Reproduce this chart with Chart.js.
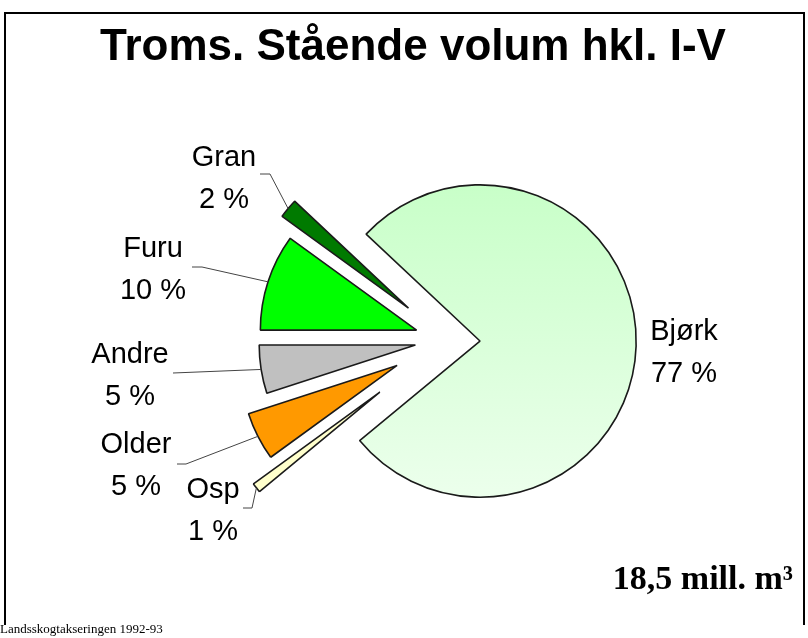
<!DOCTYPE html>
<html><head><meta charset="utf-8">
<script src="https://cdn.jsdelivr.net/npm/chart.js@4/dist/chart.umd.min.js"></script>
<style>
html,body{margin:0;padding:0;background:#fff;width:808px;height:638px;overflow:hidden;}
#wrap{position:relative;width:808px;height:638px;}
canvas{position:absolute;left:0;top:0;}
.frame{position:absolute;left:4px;top:12px;width:797px;height:611px;border:2px solid #000;border-bottom:none;}
.title{position:absolute;left:13px;width:800px;top:23px;text-align:center;font:bold 44px/44px "Liberation Sans",Arial,sans-serif;color:#000;white-space:nowrap;}
.total{position:absolute;right:15px;top:561px;font:bold 34px/34px "Liberation Serif","Times New Roman",serif;color:#000;white-space:nowrap;}
.source{position:absolute;left:0;top:622px;font:13px/13px "Liberation Serif","Times New Roman",serif;color:#000;white-space:nowrap;}
</style></head>
<body><div id="wrap">
<div class="frame"></div>
<canvas id="c" width="808" height="638" style="width:808px;height:638px"></canvas>
<div class="title">Troms. Stående volum hkl. I-V</div>
<div class="total">18,5 mill. m³</div>
<div class="source">Landsskogtakseringen 1992-93</div>
</div>
<script>
// ---- data ----
const categories = ['Bjørk', 'Osp', 'Older', 'Andre', 'Furu', 'Gran'];
const shares = [77, 1, 5, 5, 10, 2];
const shareLabels = ['77 %', '1 %', '5 %', '5 %', '10 %', '2 %'];

// ---- styles / layout ----
const sliceColors = [null, '#ffffcc', '#ff9900', '#c0c0c0', '#00ff00', '#007a00'];
const explode = [33, 85, 56, 32, 32, 50];
const labelPos = [[684, 340], [213, 498], [136, 453], [130, 363], [153, 257], [224, 166]];
const labelLineGap = 42;
const leaders = [null, [[243, 508], [252, 508]], [[177, 464], [186, 464]], [[173, 373], [173, 373]], [[192, 267], [202, 267]], [[260, 174], [270, 174]]];

const explodePlugin = {
  id: 'explode',
  beforeDatasetDraw(chart, args) {
    const ctx = chart.ctx;
    args.meta.data.forEach((arc, i) => {
      const mid = (arc.startAngle + arc.endAngle) / 2;
      const d = explode[i] || 0;
      ctx.save();
      ctx.translate(Math.cos(mid) * d, Math.sin(mid) * d);
      arc.draw(ctx, chart.chartArea);
      ctx.restore();
    });
    return false;
  }
};

const labelPlugin = {
  id: 'sliceLabels',
  afterDatasetsDraw(chart) {
    const ctx = chart.ctx;
    const meta = chart.getDatasetMeta(0);
    ctx.save();
    meta.data.forEach((arc, i) => {
      const mid = (arc.startAngle + arc.endAngle) / 2;
      const r = arc.outerRadius + (explode[i] || 0);
      const px = arc.x + Math.cos(mid) * r;
      const py = arc.y + Math.sin(mid) * r;
      const ld = leaders[i];
      if (ld) {
        ctx.beginPath();
        ctx.strokeStyle = '#444';
        ctx.lineWidth = 1;
        ctx.moveTo(ld[0][0], ld[0][1]);
        ctx.lineTo(ld[1][0], ld[1][1]);
        ctx.lineTo(px, py);
        ctx.stroke();
      }
      ctx.fillStyle = '#000';
      ctx.font = '29px "Liberation Sans", Arial, sans-serif';
      ctx.textAlign = 'center';
      ctx.textBaseline = 'alphabetic';
      ctx.fillText(categories[i], labelPos[i][0], labelPos[i][1]);
      ctx.fillText(shareLabels[i], labelPos[i][0], labelPos[i][1] + labelLineGap);
    });
    ctx.restore();
  }
};

new Chart(document.getElementById('c'), {
  type: 'pie',
  data: {
    labels: categories,
    datasets: [{
      data: shares,
      backgroundColor: (c) => {
        if (c.dataIndex === 0) {
          const a = c.chart.chartArea;
          if (!a) return '#d8ffd8';
          const g = c.chart.ctx.createLinearGradient(0, a.top, 0, a.bottom);
          g.addColorStop(0, '#c8ffc8');
          g.addColorStop(1, '#ecffec');
          return g;
        }
        return sliceColors[c.dataIndex];
      },
      borderColor: '#1a1a1a',
      borderWidth: 1.6,
      hoverBorderWidth: 1.6
    }]
  },
  options: {
    responsive: false,
    animation: false,
    events: [],
    rotation: 313.2,
    layout: { padding: { left: 290, right: 204, top: 183, bottom: 141 } },
    plugins: { legend: { display: false }, tooltip: { enabled: false }, title: { display: false } }
  },
  plugins: [explodePlugin, labelPlugin]
});
</script>
</body></html>
